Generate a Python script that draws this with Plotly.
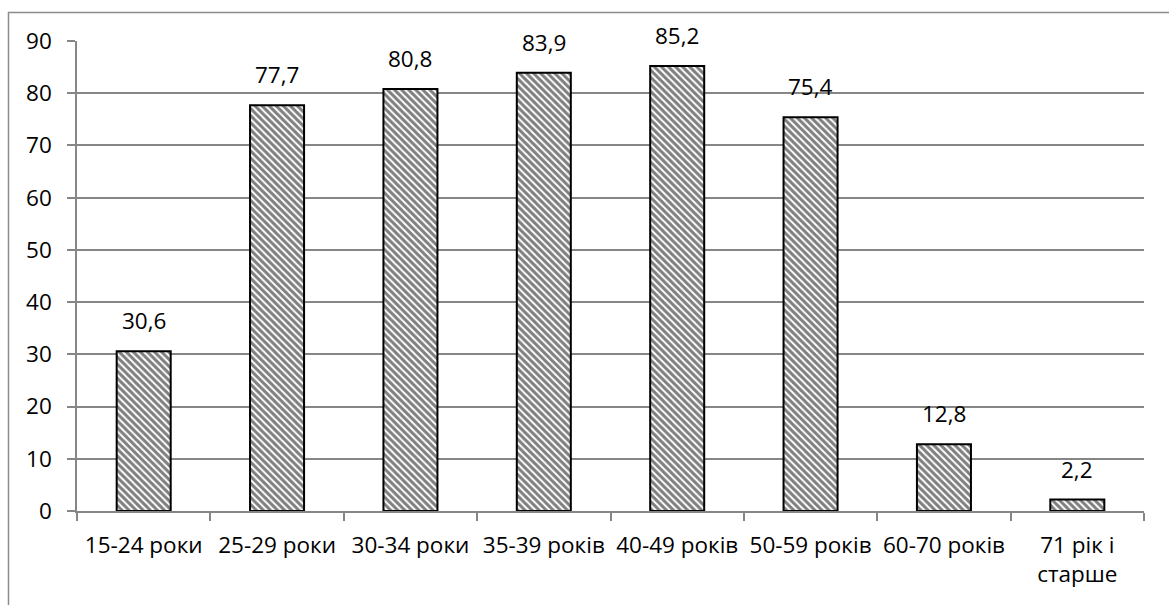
import plotly.graph_objects as go

# Age groups and their values (percent)
categories = ["15-24 роки", "25-29 роки", "30-34 роки", "35-39 років",
              "40-49 років", "50-59 років", "60-70 років", "71 рік і<br>старше"]
values = [30.6, 77.7, 80.8, 83.9, 85.2, 75.4, 12.8, 2.2]
y_ticks = [0, 10, 20, 30, 40, 50, 60, 70, 80, 90]

FONT = "Open Sans"
FS = 22.5
GRID = "#868686"

W, H = 1169, 605
ML, MR, MT, MB = 77, 25, 41, 94
pw, ph = W - ML - MR, H - MT - MB

fig = go.Figure()
fig.add_trace(go.Bar(
    x=categories,
    y=values,
    marker=dict(
        color="white",
        line=dict(color="black", width=2),
        pattern=dict(shape="\\", fgcolor="black", bgcolor="white",
                     size=5, solidity=0.6),
    ),
    hoverinfo="skip",
))

# value labels above each bar, decimal comma
for c, v in zip(categories, values):
    fig.add_annotation(
        x=c, y=v, text=f"{v:.1f}".replace(".", ","),
        showarrow=False, yanchor="bottom", yshift=13,
        font=dict(family=FONT, size=FS, color="black"),
    )

# outer chart-area frame
fig.add_shape(
    type="rect", xref="paper", yref="paper",
    x0=(8.5 - ML) / pw, x1=(W + 20 - ML) / pw,
    y0=(ph + MT - (H + 20)) / ph, y1=(ph + MT - 12.5) / ph,
    line=dict(color="#8c8c8c", width=1.5), fillcolor="rgba(0,0,0,0)",
    layer="below",
)

fig.update_layout(
    width=W, height=H,
    margin=dict(l=ML, r=MR, t=MT, b=MB, pad=0),
    paper_bgcolor="white", plot_bgcolor="white",
    bargap=0.595,
    showlegend=False,
    font=dict(family=FONT, size=FS, color="black"),
    xaxis=dict(
        type="category",
        automargin=False,
        tickangle=0,
        showline=True, linecolor=GRID, linewidth=1.5,
        ticks="outside", ticklen=8, tickcolor=GRID, tickwidth=1.5,
        tickson="boundaries",
        showgrid=False,
        ticklabelstandoff=13,
        tickfont=dict(family=FONT, size=FS, color="black"),
        fixedrange=True,
    ),
    yaxis=dict(
        range=[0, 90],
        automargin=False,
        tickvals=y_ticks,
        showline=True, linecolor=GRID, linewidth=1.5,
        ticks="outside", ticklen=8, tickcolor=GRID, tickwidth=1.5,
        showgrid=True, gridcolor=GRID, gridwidth=1.5,
        zeroline=False,
        ticklabelstandoff=11,
        tickfont=dict(family=FONT, size=FS, color="black"),
        fixedrange=True,
    ),
)

fig.write_html("out.html", config={"displayModeBar": False})
